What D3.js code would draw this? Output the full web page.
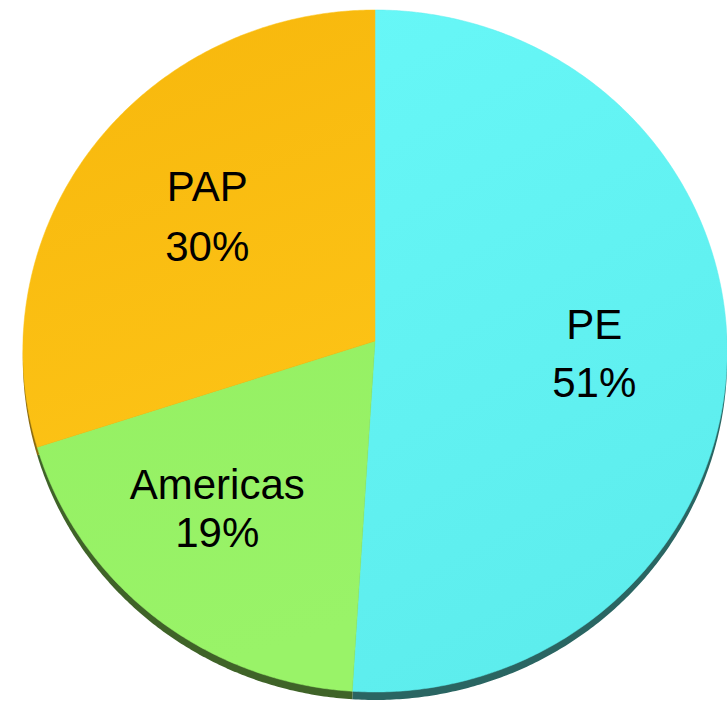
<!DOCTYPE html>
<html>
<head>
<meta charset="utf-8">
<script src="https://cdn.jsdelivr.net/npm/d3@7"></script>
<style>
  html, body { margin: 0; padding: 0; background: #ffffff; }
  svg { display: block; }
</style>
</head>
<body>
<svg id="chart" width="727" height="704"></svg>
<script>
// ---- data ----
const categories = ["PE", "Americas", "PAP"];
const values = [51, 19, 30];
const labels = ["51%", "19%", "30%"];

// ---- styles ----
const topColors = {
  PE: ["#67F7F7", "#5DEDED"],
  Americas: ["#95F063", "#99F368"],
  PAP: ["#F7B70C", "#FCC215"]
};
const sideColors = { PE: "#2A6562", Americas: "#3F6328", PAP: "#8A6A10" };
const labelLayout = {
  PE: { r: 0.62, dx: 1, dy: 5, gap: 58 },
  Americas: { r: 0.62, dx: -22, dy: -2, gap: 48 },
  PAP: { r: 0.62, dx: 7, dy: -2, gap: 60 }
};

const svg = d3.select("#chart");
const cx = 375, cy = 341;      // projected pie centre
const a = 352, c = 340.7, b = 0.0293; // horizontal radius, vertical radius, perspective
const depth = 8;

function proj(theta, r) {
  const u = r * Math.sin(theta), v = r * Math.cos(theta);
  const w = 1 + b * v;
  return [cx + a * u / w, cy - c * v / w];
}

const data = categories.map((k, i) => ({ key: k, value: values[i], label: labels[i] }));
const arcs = d3.pie().sort(null).value(d => d.value)(data);

const line = d3.line().curve(d3.curveLinear);
function slicePath(d, shift) {
  const n = Math.max(8, Math.ceil((d.endAngle - d.startAngle) / (Math.PI / 360)));
  const pts = [proj(0, 0)];
  for (let i = 0; i <= n; i++) {
    const t = d.startAngle + (d.endAngle - d.startAngle) * i / n;
    pts.push(proj(t, 1));
  }
  return line(pts.map(p => [p[0], p[1] + shift])) + "Z";
}

// gradients
const defs = svg.append("defs");
categories.forEach(k => {
  const g = defs.append("linearGradient").attr("id", "g-" + k)
    .attr("x1", "0").attr("y1", "0").attr("x2", "0.3").attr("y2", "1");
  g.append("stop").attr("offset", "0%").attr("stop-color", topColors[k][0]);
  g.append("stop").attr("offset", "100%").attr("stop-color", topColors[k][1]);
});

// side (extruded) layer
svg.append("g").selectAll("path").data(arcs).join("path")
  .attr("d", d => slicePath(d, depth))
  .attr("fill", d => sideColors[d.data.key]);

// top faces
svg.append("g").selectAll("path").data(arcs).join("path")
  .attr("d", d => slicePath(d, 0))
  .attr("fill", d => `url(#g-${d.data.key})`)
  .attr("stroke", d => topColors[d.data.key][1])
  .attr("stroke-width", 0.5);

// labels
const lg = svg.append("g")
  .attr("font-family", "Arial, 'Liberation Sans', sans-serif")
  .attr("font-size", 42)
  .attr("fill", "#000")
  .attr("text-anchor", "middle");

arcs.forEach(d => {
  const L = labelLayout[d.data.key];
  const mid = (d.startAngle + d.endAngle) / 2;
  const p = proj(mid, L.r);
  const x = p[0] + L.dx, y = p[1] + L.dy;
  const t = lg.append("text").attr("x", x);
  t.append("tspan").attr("x", x).attr("y", y - L.gap / 2 + 15).text(d.data.key);
  t.append("tspan").attr("x", x).attr("y", y + L.gap / 2 + 15).text(d.data.label);
});
</script>
</body>
</html>
